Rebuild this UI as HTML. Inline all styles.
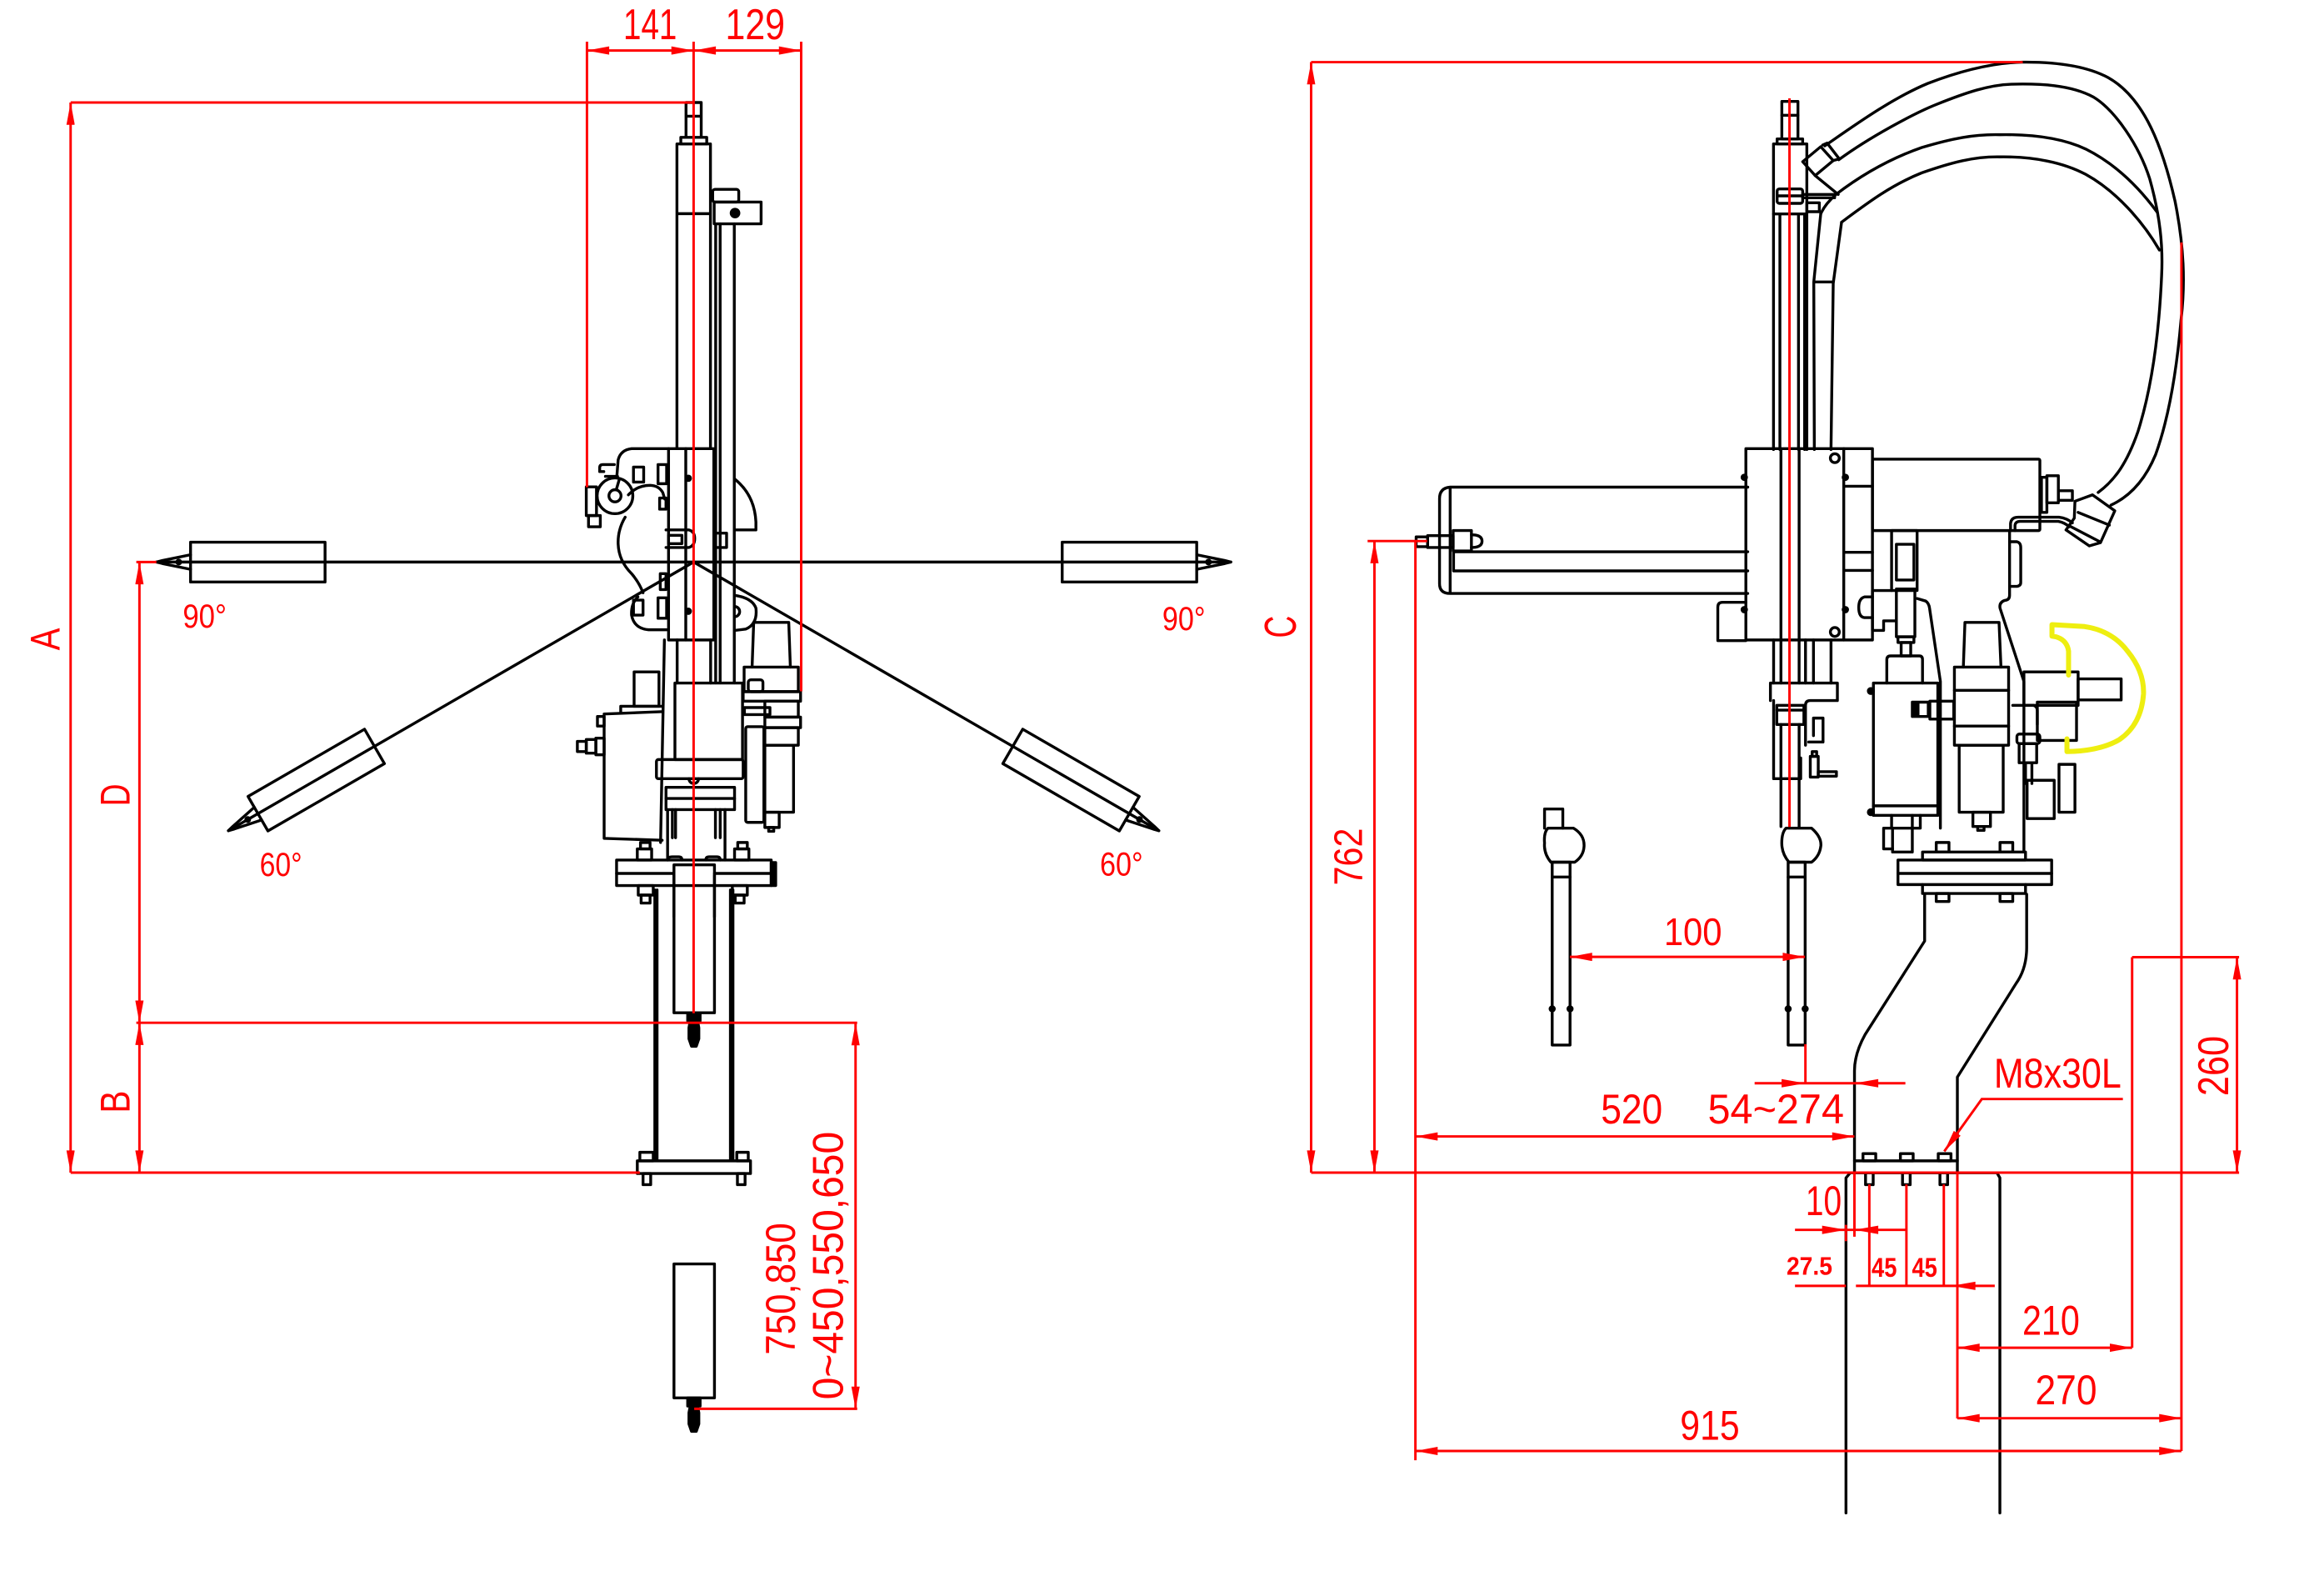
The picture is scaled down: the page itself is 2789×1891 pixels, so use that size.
<!DOCTYPE html>
<html><head><meta charset="utf-8"><style>
html,body{margin:0;padding:0;background:#fff;overflow:hidden}
svg{display:block}
.k{fill:none;stroke:#000;stroke-width:3.4;stroke-linejoin:round;stroke-linecap:round}
.k *{vector-effect:non-scaling-stroke}
.r{fill:none;stroke:#f00;stroke-width:1.65}
.t{fill:#f00;stroke:none;font-family:"Liberation Sans",sans-serif}
</style></head><body>
<svg width="2789" height="1891" viewBox="0 0 1560 1057.7" preserveAspectRatio="none" xmlns="http://www.w3.org/2000/svg">
<defs>
<marker id="ar" viewBox="0 0 16 6" refX="16" refY="3" markerWidth="16" markerHeight="5.6" markerUnits="userSpaceOnUse" orient="auto-start-reverse"><path d="M0,0L16,3L0,6Z" fill="#f00"/></marker>
</defs>
<rect width="1560" height="1057.7" fill="#fff"/>

<!-- ================= LEFT VIEW BLACK ================= -->
<g class="k">
<defs>
<g id="arm">
<rect x="127.9" y="363.9" width="90.3" height="26.7" vector-effect="non-scaling-stroke"/>
<path d="M127.9,372.3L109,376.2L105,377.2L109,378.2L127.9,382.1" vector-effect="non-scaling-stroke"/>
<circle cx="120" cy="377.2" r="1.3" fill="#000" vector-effect="non-scaling-stroke"/>
<line x1="105" y1="377.2" x2="465.6" y2="377.2" vector-effect="non-scaling-stroke"/>
</g>
</defs>
<use href="#arm"/>
<use href="#arm" transform="matrix(-1,0,0,1,931.2,0)"/>
<use href="#arm" transform="rotate(-30 465.6 377.2)"/>
<use href="#arm" transform="rotate(30 465.6 377.2) matrix(-1,0,0,1,931.2,0)"/>

<path d="M460.5,92.2V68.8H470.7V92.2M460.5,78H470.7"/>
<rect x="457" y="92.2" width="17.4" height="4.4"/>
<path d="M454.4,301V96.6H476.9V301M454.4,143.4H476.9"/>
<path d="M480.4,150.2V458.3M483.4,150.2V458.3M492.9,150.2V458.3"/>
<rect x="478.4" y="127.1" width="17.5" height="8.5" rx="1.5"/>
<rect x="479.4" y="135.6" width="31.5" height="14.6"/>
<circle cx="493.4" cy="143" r="2.6"/>
<circle cx="493.4" cy="143" r="0.9" fill="#000"/>

<g transform="translate(363.58,279.67) scale(0.21404)">
<rect x="398" y="100" width="142" height="600"/>
<path d="M452,100V700"/>
<circle cx="460" cy="193" r="7" fill="#000"/><circle cx="460" cy="610" r="7" fill="#000"/>
<path d="M398,100H282Q248,104 240,135L236,185"/>
<path d="M228,150H192Q182,150 182,160V172H195"/>
<path d="M200,187H238"/>
<circle cx="230" cy="248" r="56"/>
<circle cx="230" cy="248" r="19"/>
<path d="M234,229L244,195"/>
<rect x="140" y="220" width="32" height="90"/>
<rect x="147" y="310" width="37" height="35"/>
<path d="M272,245Q300,215 340,215Q368,216 380,238L386,258"/>
<path d="M262,315Q238,355 240,400Q242,452 282,492Q306,520 318,552"/>
<path d="M302,565Q280,585 282,622Q290,664 335,668H392"/>
<rect x="288" y="158" width="32" height="47"/>
<rect x="365" y="150" width="27" height="60"/>
<rect x="288" y="575" width="30" height="47"/>
<rect x="365" y="568" width="27" height="64"/>
<rect x="370" y="255" width="20" height="35"/>
<rect x="372" y="492" width="18" height="50"/>
<path d="M390,355H462Q480,360 480,382Q480,405 462,410H390"/>
<rect x="398" y="372" width="42" height="26"/>
<rect x="545" y="365" width="35" height="45"/>
<path d="M605,195Q668,245 672,330V355H605"/>
<path d="M605,560Q660,568 672,600Q678,650 640,666L605,670"/>
<path d="M605,595A16,16 0 0 1 605,627"/>
<path d="M425,700V835M530,700V835"/>
<path d="M385,700L373,1335"/>
<rect x="418" y="835" width="212" height="240"/>
<path d="M660,785L665,645H775L780,785"/>
<rect x="635" y="785" width="170" height="77"/>
<rect x="648" y="825" width="46" height="37" rx="8"/>
<rect x="632" y="862" width="180" height="30"/>
<rect x="700" y="892" width="105" height="50"/>
<rect x="636" y="912" width="80" height="22"/>
<rect x="700" y="942" width="112" height="33"/>
<rect x="700" y="975" width="105" height="55"/>
<rect x="640" y="972" width="57" height="300" rx="6"/>
<rect x="700" y="1030" width="90" height="210"/>
<rect x="700" y="1240" width="45" height="48"/>
<rect x="712" y="1288" width="16" height="12"/>
<path d="M196,932L375,925M196,932V1322L378,1328"/>
<rect x="290" y="800" width="78" height="108"/>
<path d="M248,925V908H376"/>
<rect x="175" y="940" width="21" height="30"/>
<rect x="112" y="1018" width="28" height="32"/>
<rect x="140" y="1012" width="30" height="43"/>
<rect x="170" y="1008" width="26" height="52"/>
<rect x="360" y="1075" width="272" height="60" rx="6"/>
<path d="M462,1135A15,15 0 0 0 492,1135"/>
<rect x="390" y="1162" width="215" height="70"/>
<path d="M390,1197H605"/>
<path d="M395,1232V1390M575,1232V1390M410,1232V1320M420,1232V1320M545,1232V1320M560,1232V1320"/>
<path d="M395,1390Q395,1380 410,1380H430Q440,1380 440,1390M515,1390Q515,1380 525,1380H550Q560,1380 560,1390"/>
<rect x="235" y="1390" width="485" height="80"/>
<path d="M235,1432H415M542,1432H720"/>
<rect x="300" y="1355" width="45" height="35"/><rect x="310" y="1335" width="30" height="20"/>
<rect x="605" y="1355" width="45" height="35"/><rect x="615" y="1335" width="30" height="20"/>
<rect x="720" y="1398" width="14" height="72" fill="#000"/>
<rect x="303" y="1470" width="47" height="30"/><rect x="312" y="1500" width="28" height="25"/>
<rect x="598" y="1470" width="47" height="30"/><rect x="607" y="1500" width="28" height="25"/>
<path d="M415,1568V1405H542V1568"/>
</g>

<g transform="translate(363.58,587.31) scale(0.21404,0.24971)">
<path d="M355,40V765M362,40V765M592,40V765M600,40V765"/>
<path d="M415,0V370H542V0"/>
<path d="M458,370V392H466L462,410V440L470,460H485L493,440V410L489,392H497V370Z" fill="#000"/>
<rect x="300" y="768" width="355" height="34"/>
<rect x="308" y="745" width="42" height="23"/>
<rect x="612" y="745" width="36" height="23"/>
<rect x="318" y="802" width="24" height="30"/>
<rect x="614" y="802" width="24" height="30"/>
<rect x="415" y="1045" width="127" height="360"/>
<path d="M458,1405V1427H466L462,1445V1475L470,1495H485L493,1475V1445L489,1427H497V1405Z" fill="#000"/>
</g>
</g>

<!-- ================= RIGHT VIEW BLACK ================= -->
<g class="k">
<path d="M1224.9,97.9C1245,84 1270,66 1294,56C1320,46 1340,42 1357.8,41.7C1380,41.5 1400,44 1415,52C1440,66 1452,100 1460,135C1466,165 1467,190 1464,215C1461,250 1456,280 1447,305C1440,322 1430,333 1417,339"/>
<path d="M1234.3,107.2C1255,92 1285,76 1300,70C1320,62 1335,57 1350,56.5C1370,56 1390,57 1405,65C1420,74 1436,98 1443,120C1450,145 1452,165 1451,185C1449,230 1443,265 1435,290C1428,310 1420,322 1408.4,330.5"/>
<path d="M1232.4,130.5C1250,117 1270,106 1290,99C1310,93 1325,90 1342.4,90.4C1365,90 1385,93 1400,100C1420,110 1436,126 1448,142.4"/>
<path d="M1236.2,149.1C1255,135 1270,124 1290,116C1310,109 1325,105 1342.4,105.3C1365,105 1385,109 1400,117C1420,128 1438,148 1449.5,167.8"/>

<g transform="translate(1174.63,55.93) scale(0.18645)">
<rect x="115" y="65" width="58" height="135"/><path d="M115,115H173"/>
<rect x="98" y="200" width="92" height="18"/>
<path d="M85,1318V218H205V1318"/>
<rect x="98" y="380" width="92" height="52" rx="8"/><path d="M98,405H190"/>
<path d="M85,470H205M108,470V1318M175,470V1318M197,470V1318"/>
<rect x="205" y="430" width="45" height="32"/>
<rect x="190" y="400" width="115" height="12"/>
<path d="M255,470L230,715L232,1318M330,500L300,720L292,1318M230,715H300"/>
<path d="M255,470Q270,435 310,400"/>
<path d="M190,282L255,228L300,278L235,332Z"/>
<path d="M235,332L318,400M262,222L278,215L322,272L300,278"/>
</g>

<g transform="translate(1146.67,279.67) scale(0.21404)">
<rect x="118" y="100" width="397" height="600"/>
<path d="M228,100V700M285,100V700M425,100V700"/>
<circle cx="397" cy="130" r="14"/><circle cx="397" cy="675" r="14"/>
<circle cx="113" cy="190" r="7" fill="#000"/><circle cx="113" cy="605" r="7" fill="#000"/>
<circle cx="430" cy="190" r="7" fill="#000"/><circle cx="430" cy="605" r="7" fill="#000"/>
<path d="M425,218H515M425,425H515M425,482H515"/>
<path d="M118,582H45Q30,582 30,597V702H118"/>
<rect x="515" y="133" width="525" height="224" rx="4"/>
<rect x="1045" y="190" width="17" height="110"/><rect x="1062" y="185" width="36" height="85"/><rect x="1098" y="232" width="44" height="30"/>
<path d="M948,357V335Q950,315 972,315H1100Q1125,318 1142,333M962,357V340Q964,328 978,328H1098Q1118,332 1132,345"/>
<path d="M1150,265L1205,245L1275,295L1230,395L1195,405L1122,355L1148,318Z"/>
<path d="M1132,342L1228,392M1160,300L1258,340"/>
<rect x="575" y="357" width="80" height="188"/><rect x="590" y="400" width="55" height="112"/>
<path d="M515,545H575M515,545V670H550V640H590"/>
<path d="M515,565H490Q472,570 472,598Q472,628 490,630H515"/>
<rect x="590" y="540" width="58" height="150"/><rect x="595" y="690" width="50" height="18"/><rect x="605" y="708" width="30" height="42"/>
<path d="M655,570L682,578Q692,585 694,600L728,830V1290"/>
<path d="M945,357V560Q945,575 930,576Q912,582 915,600L990,830V1365"/>
<path d="M945,392H968Q980,395 980,410V520Q980,530 968,532H945"/>
<path d="M560,835V762Q560,750 572,750H662Q672,750 672,762V835"/>
<rect x="518" y="835" width="202" height="415"/>
<path d="M518,1220H720"/>
<circle cx="510" cy="860" r="8" fill="#000"/><circle cx="510" cy="1240" r="8" fill="#000"/>
<path d="M575,1250V1290H550V1355H578M640,1250V1290H665V1250"/>
<rect x="578" y="1290" width="62" height="75"/>
<rect x="695" y="892" width="75" height="56"/>
<rect x="640" y="895" width="50" height="45"/>
<rect x="646" y="900" width="12" height="35" fill="#000"/>
<path d="M800,785L805,645H912L918,785"/>
<rect x="772" y="785" width="170" height="245"/>
<path d="M772,858H942M772,970H942"/>
<rect x="787" y="1030" width="138" height="210"/>
<rect x="830" y="1240" width="55" height="45"/><rect x="845" y="1285" width="20" height="12"/>
<rect x="990" y="800" width="170" height="105"/>
<rect x="1160" y="822" width="135" height="66"/>
<path d="M955,905H1020Q1032,908 1032,922V965"/>
<rect x="1032" y="895" width="123" height="120"/>
<rect x="968" y="995" width="72" height="30" rx="8"/>
<rect x="975" y="1025" width="55" height="60"/>
<path d="M995,1085V1150M1015,1085V1150"/>
<rect x="1000" y="1140" width="85" height="120"/>
<rect x="1100" y="1090" width="50" height="150"/>
<rect x="672" y="1365" width="323" height="25"/>
<rect x="715" y="1335" width="40" height="30"/><rect x="915" y="1335" width="40" height="30"/>
<rect x="595" y="1390" width="482" height="77"/>
<path d="M595,1432H1077"/>
<path d="M672,1467V1495M995,1467V1495M672,1495H995"/>
<rect x="715" y="1495" width="40" height="25"/><rect x="915" y="1495" width="40" height="25"/>
<path d="M205,700V835M228,700V835M285,700V835M305,700V835M330,700V835M385,700V835"/>
<path d="M195,890V835H405V890H320Q305,890 305,905V1030"/>
<path d="M205,890V1135H290V1070"/>
<rect x="215" y="905" width="85" height="60"/><path d="M215,920H300"/>
<path d="M228,965V1285M285,965V1285"/>
<path d="M315,1020H360V945H330V1000"/>
<rect x="320" y="1065" width="25" height="65"/><rect x="326" y="1050" width="14" height="15"/><rect x="345" y="1113" width="57" height="14"/>
<path d="M1130,810L1130,735Q1125,700 1090,690L1078,688L1078,652L1180,658Q1265,670 1315,735Q1368,800 1365,870Q1358,965 1290,1012Q1230,1048 1125,1050L1125,1010" stroke="#eeee10" stroke-width="6"/>
</g>

<g transform="translate(894.95,313.23) scale(0.28538)">
<path d="M975,48H275Q250,50 250,75V275Q250,298 275,298H975M275,48V298M283,200H975M283,245H975M283,200V245"/>
<rect x="195" y="165" width="27" height="23"/><rect x="222" y="162" width="60" height="28"/><rect x="282" y="150" width="43" height="48"/>
<path d="M325,160Q350,160 350,175Q350,190 325,190"/>
<path d="M497,850V805H540V850"/>
<path d="M505,850H565Q590,865 590,890Q590,915 568,930H512Q495,910 497,885Q495,860 505,850Z"/>
<rect x="515" y="930" width="42" height="430"/><path d="M515,965H557"/>
<circle cx="515" cy="1275" r="5" fill="#000"/><circle cx="557" cy="1275" r="5" fill="#000"/>
<path d="M1065,850H1125Q1148,870 1147,890Q1145,915 1125,930H1072Q1055,910 1055,885Q1055,860 1065,850Z"/>
<rect x="1070" y="930" width="40" height="430"/><path d="M1070,965H1110"/>
<circle cx="1070" cy="1275" r="5" fill="#000"/><circle cx="1110" cy="1275" r="5" fill="#000"/>
</g>

<g transform="translate(1090.73,587.31) scale(0.28538)">
<path d="M705,45V155L565,375Q540,420 540,460V672M945,45V170Q945,220 920,255L782,475V672"/>
<rect x="540" y="672" width="242" height="28"/>
<rect x="560" y="655" width="30" height="17"/><rect x="648" y="655" width="30" height="17"/><rect x="737" y="655" width="30" height="17"/>
<rect x="566" y="700" width="18" height="28"/><rect x="653" y="700" width="18" height="28"/><rect x="741" y="700" width="18" height="28"/>
<path d="M520,1500V712L530,700H875L882,712V1500"/>
</g>
</g>

<!-- ================= RED DIMENSIONS ================= -->
<g class="r">
<line x1="394" y1="33.9" x2="465.6" y2="33.9" marker-start="url(#ar)" marker-end="url(#ar)"/>
<line x1="465.6" y1="33.9" x2="537.8" y2="33.9" marker-start="url(#ar)" marker-end="url(#ar)"/>
<line x1="394" y1="28" x2="394" y2="327"/>
<line x1="465.6" y1="28" x2="465.6" y2="680"/>
<line x1="537.8" y1="28" x2="537.8" y2="464"/>
<line x1="47.4" y1="68.8" x2="47.4" y2="787" marker-start="url(#ar)" marker-end="url(#ar)"/>
<line x1="47.4" y1="68.8" x2="466" y2="68.8"/>
<line x1="47.4" y1="787" x2="429.5" y2="787"/>
<line x1="93.6" y1="377.2" x2="93.6" y2="686.4" marker-start="url(#ar)" marker-end="url(#ar)"/>
<line x1="91.5" y1="377.2" x2="105" y2="377.2"/>
<line x1="91.5" y1="686.4" x2="575.4" y2="686.4"/>
<line x1="93.6" y1="686.4" x2="93.6" y2="787" marker-start="url(#ar)" marker-end="url(#ar)"/>
<line x1="574.3" y1="686.6" x2="574.3" y2="945.5" marker-start="url(#ar)" marker-end="url(#ar)"/>
<line x1="466" y1="945.5" x2="575.4" y2="945.5"/>
<line x1="1201.2" y1="66" x2="1201.2" y2="555"/>
<line x1="880.1" y1="41.7" x2="880.1" y2="787" marker-start="url(#ar)" marker-end="url(#ar)"/>
<line x1="880.1" y1="41.7" x2="1357.8" y2="41.7"/>
<line x1="880.1" y1="787" x2="1503" y2="787"/>
<line x1="922.6" y1="363.1" x2="922.6" y2="787" marker-start="url(#ar)" marker-end="url(#ar)"/>
<line x1="918" y1="363.1" x2="958" y2="363.1"/>
<line x1="950.1" y1="363.1" x2="950.1" y2="980"/>
<line x1="950.1" y1="762.7" x2="1244.8" y2="762.7" marker-start="url(#ar)" marker-end="url(#ar)"/>
<line x1="950.1" y1="973.8" x2="1464.3" y2="973.8" marker-start="url(#ar)" marker-end="url(#ar)"/>
<line x1="1053.8" y1="642.2" x2="1211.6" y2="642.2" marker-start="url(#ar)" marker-end="url(#ar)"/>
<line x1="1211.9" y1="700.8" x2="1211.9" y2="727"/>
<line x1="1177.8" y1="727" x2="1279" y2="727"/>
<polyline points="1425,737.6 1330.3,737.6 1305.1,772.7" marker-end="url(#ar)"/>
<line x1="1244.8" y1="787" x2="1244.8" y2="830"/>
<line x1="1239.1" y1="822" x2="1239.1" y2="833"/>
<line x1="1204.9" y1="825.4" x2="1279.5" y2="825.4"/>
<line x1="1204.9" y1="863" x2="1239.1" y2="863"/>
<line x1="1245.8" y1="863" x2="1339" y2="863"/>
<line x1="1254.8" y1="794.9" x2="1254.8" y2="863"/>
<line x1="1279.7" y1="794.9" x2="1279.7" y2="863"/>
<line x1="1304.8" y1="794.9" x2="1304.8" y2="863"/>
<line x1="1313.9" y1="787" x2="1313.9" y2="952"/>
<line x1="1313.9" y1="904.5" x2="1431.2" y2="904.5" marker-start="url(#ar)" marker-end="url(#ar)"/>
<line x1="1313.9" y1="951.8" x2="1464.3" y2="951.8" marker-start="url(#ar)" marker-end="url(#ar)"/>
<line x1="1431.2" y1="642.4" x2="1431.2" y2="904.5"/>
<line x1="1431.2" y1="642.4" x2="1503" y2="642.4"/>
<line x1="1501.6" y1="642.4" x2="1501.6" y2="787" marker-start="url(#ar)" marker-end="url(#ar)"/>
<line x1="1464.3" y1="162.7" x2="1464.3" y2="973.8"/>
</g>
<g fill="#f00">
<polygon points="1211.9,727 1195.9,724.2 1195.9,729.8"/>
<polygon points="1244.8,727 1260.8,724.2 1260.8,729.8"/>
<polygon points="1239.1,825.4 1223.1,822.6 1223.1,828.2"/>
<polygon points="1244.8,825.4 1260.8,822.6 1260.8,828.2"/>
<polygon points="1310,863 1326,860.2 1326,865.8"/>
</g>

<!-- ================= TEXT ================= -->
<g class="t">
<text x="418.4" y="26.4" font-size="29" textLength="36" lengthAdjust="spacingAndGlyphs">141</text>
<text x="486.9" y="26.4" font-size="29" textLength="40" lengthAdjust="spacingAndGlyphs">129</text>
<text transform="translate(40,429) rotate(-90)" text-anchor="middle" font-size="28" textLength="15" lengthAdjust="spacingAndGlyphs">A</text>
<text transform="translate(87,533.5) rotate(-90)" text-anchor="middle" font-size="28" textLength="15" lengthAdjust="spacingAndGlyphs">D</text>
<text transform="translate(87,739.5) rotate(-90)" text-anchor="middle" font-size="28" textLength="15" lengthAdjust="spacingAndGlyphs">B</text>
<text transform="translate(869.8,420.7) rotate(-90)" text-anchor="middle" font-size="30" textLength="15" lengthAdjust="spacingAndGlyphs">C</text>
<text x="122.7" y="421.1" font-size="22.5" textLength="29.4" lengthAdjust="spacingAndGlyphs">90°</text>
<text x="780.2" y="422.8" font-size="22.5" textLength="28.9" lengthAdjust="spacingAndGlyphs">90°</text>
<text x="174.3" y="587.8" font-size="22.5" textLength="28.5" lengthAdjust="spacingAndGlyphs">60°</text>
<text x="738.3" y="587.5" font-size="22.5" textLength="28.9" lengthAdjust="spacingAndGlyphs">60°</text>
<text transform="translate(533.6,865) rotate(-90)" text-anchor="middle" font-size="28" textLength="88.6" lengthAdjust="spacingAndGlyphs">750,850</text>
<text transform="translate(565.7,849.4) rotate(-90)" text-anchor="middle" font-size="29" textLength="179.8" lengthAdjust="spacingAndGlyphs">0~450,550,650</text>
<text transform="translate(914.3,575) rotate(-90)" text-anchor="middle" font-size="27" textLength="38.5" lengthAdjust="spacingAndGlyphs">762</text>
<text transform="translate(1495.7,715.4) rotate(-90)" text-anchor="middle" font-size="29" textLength="40.4" lengthAdjust="spacingAndGlyphs">260</text>
<text x="1116.9" y="634.2" font-size="26" textLength="39" lengthAdjust="spacingAndGlyphs">100</text>
<text x="1074.6" y="754" font-size="28" textLength="41.4" lengthAdjust="spacingAndGlyphs">520</text>
<text x="1146.4" y="754" font-size="28" textLength="91.4" lengthAdjust="spacingAndGlyphs">54~274</text>
<text x="1338.4" y="729.9" font-size="28" textLength="85.6" lengthAdjust="spacingAndGlyphs">M8x30L</text>
<text x="1212" y="815.6" font-size="28" textLength="24.2" lengthAdjust="spacingAndGlyphs">10</text>
<text x="1199.2" y="855.6" font-size="17" font-weight="bold" textLength="30.8" lengthAdjust="spacingAndGlyphs">27.5</text>
<text x="1256.3" y="857" font-size="18" font-weight="bold" textLength="17" lengthAdjust="spacingAndGlyphs">45</text>
<text x="1283.4" y="857" font-size="18" font-weight="bold" textLength="17" lengthAdjust="spacingAndGlyphs">45</text>
<text x="1357.5" y="895.9" font-size="28" textLength="38.5" lengthAdjust="spacingAndGlyphs">210</text>
<text x="1366.2" y="942.6" font-size="28" textLength="41.4" lengthAdjust="spacingAndGlyphs">270</text>
<text x="1127.8" y="966.3" font-size="28" textLength="39.9" lengthAdjust="spacingAndGlyphs">915</text>
</g>
</svg>
</body></html>
